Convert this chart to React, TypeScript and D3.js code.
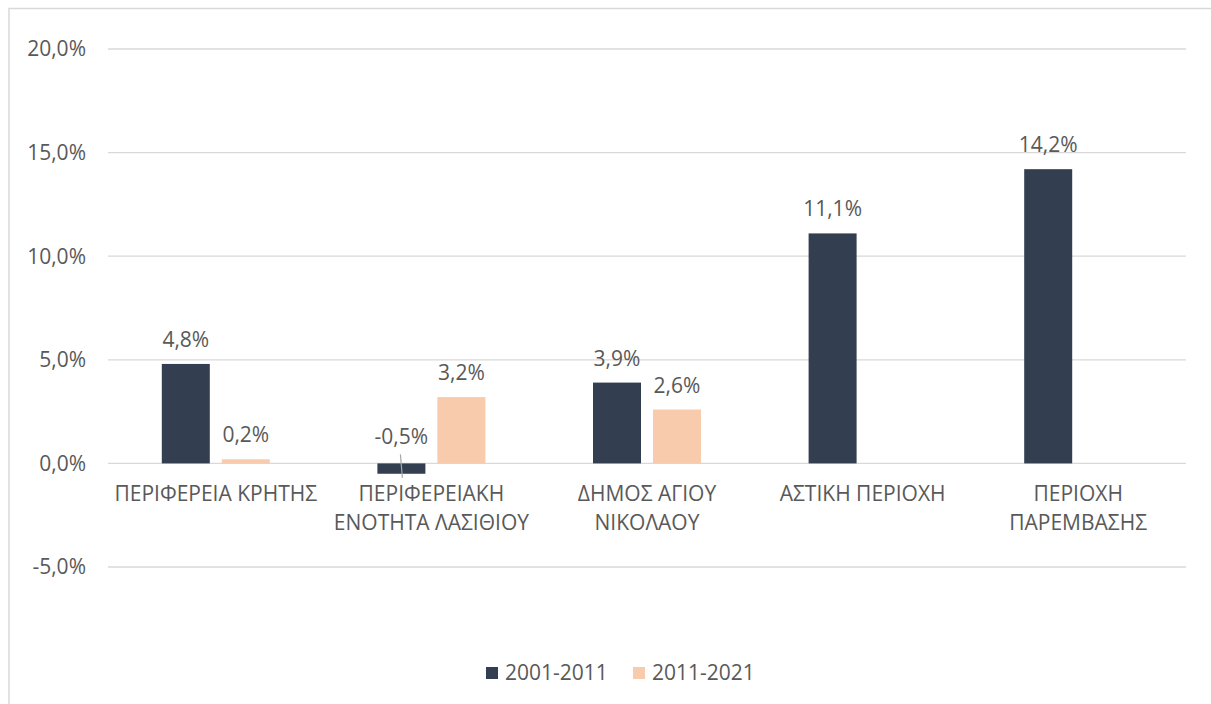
import React from "react";
import * as d3 from "d3";

const categories: string[][] = [
  ["ΠΕΡΙΦΕΡΕΙΑ ΚΡΗΤΗΣ"],
  ["ΠΕΡΙΦΕΡΕΙΑΚΗ", "ΕΝΟΤΗΤΑ ΛΑΣΙΘΙΟΥ"],
  ["ΔΗΜΟΣ ΑΓΙΟΥ", "ΝΙΚΟΛΑΟΥ"],
  ["ΑΣΤΙΚΗ ΠΕΡΙΟΧΗ"],
  ["ΠΕΡΙΟΧΗ", "ΠΑΡΕΜΒΑΣΗΣ"],
];
const series1: (number | null)[] = [4.8, -0.5, 3.9, 11.1, 14.2];
const series2: (number | null)[] = [0.2, 3.2, 2.6, null, null];
const seriesNames = ["2001-2011", "2011-2021"];
const yTicks = [-5, 0, 5, 10, 15, 20];

const COLORS = ["#333F50", "#F8CBAD"];
const TEXT = "#595959";
const GRID = "#D9D9D9";
const FONT = "'Open Sans', sans-serif";
const FS = 21;

const fmt = (v: number) => v.toFixed(1).replace(".", ",") + "%";

export default function App() {
  const W = 1211, H = 704;
  const left = 108, right = 1186;
  const y = d3.scaleLinear().domain([-5, 20]).range([567, 49]);
  const x = d3.scaleBand<number>().domain(d3.range(categories.length)).range([left, right]);
  const barW = 48, gap = 12;
  const data = [series1, series2];

  return (
    <svg width={W} height={H} style={{ position: "absolute", left: 0, top: 0 }} fontFamily={FONT}>
      <rect x={9} y={8.5} width={1260} height={760} fill="#fff" stroke={GRID} strokeWidth={1.5} />
      {yTicks.map((t) => (
        <g key={t}>
          <line x1={left} x2={right} y1={y(t)} y2={y(t)} stroke={GRID} strokeWidth={1.3} />
          <text x={86} y={y(t)} dy="0.35em" textAnchor="end" fontSize={FS} fill={TEXT}>
            {fmt(t)}
          </text>
        </g>
      ))}
      {categories.map((lines, i) => {
        const cx = x(i)! + x.bandwidth() / 2;
        return (
          <g key={i}>
            {data.map((s, si) => {
              const v = s[i];
              if (v === null) return null;
              const bx = si === 0 ? cx - gap / 2 - barW : cx + gap / 2;
              const top = Math.min(y(v), y(0));
              const h = Math.abs(y(v) - y(0));
              const neg = v < 0;
              return (
                <g key={si}>
                  <rect x={bx} y={top} width={barW} height={h} fill={COLORS[si]} />
                  {neg ? (
                    <>
                      <line x1={bx + barW / 2 - 1} y1={y(0) - 9} x2={bx + barW / 2 + 1} y2={y(v) + 4} stroke="#A6A6A6" strokeWidth={1.2} />
                      <text x={bx + barW / 2} y={y(0) - 19} textAnchor="middle" fontSize={FS} fill={TEXT}>
                        {fmt(v)}
                      </text>
                    </>
                  ) : (
                    <text x={bx + barW / 2} y={y(v) - 17} textAnchor="middle" fontSize={FS} fill={TEXT}>
                      {fmt(v)}
                    </text>
                  )}
                </g>
              );
            })}
            {lines.map((l, li) => (
              <text key={li} x={cx} y={501 + li * 29} textAnchor="middle" fontSize={FS} fill={TEXT}>
                {l}
              </text>
            ))}
          </g>
        );
      })}
      {seriesNames.map((n, i) => {
        const lx = [486, 633][i];
        return (
          <g key={n}>
            <rect x={lx} y={667} width={12} height={12} fill={COLORS[i]} />
            <text x={lx + 19} y={673} dy="0.35em" fontSize={FS} fill={TEXT}>
              {n}
            </text>
          </g>
        );
      })}
    </svg>
  );
}
